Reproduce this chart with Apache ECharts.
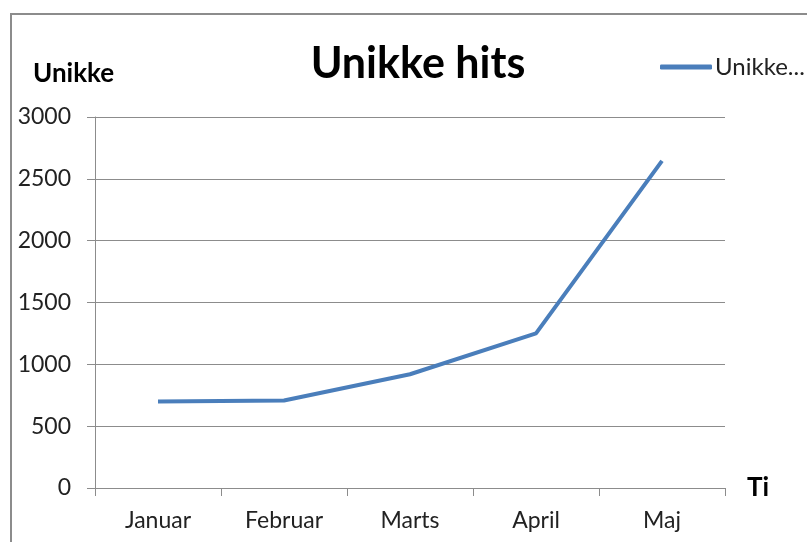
<!DOCTYPE html>
<html>
<head>
<meta charset="utf-8">
<script src="https://cdn.jsdelivr.net/npm/echarts@6/dist/echarts.min.js"></script>
<style>
  html, body { margin: 0; padding: 0; background: #fff; overflow: hidden; }
  #frame {
    position: absolute; left: 10px; top: 13px; width: 810px; height: 540px;
    border-left: 2px solid #8c8c8c; border-top: 2px solid #8c8c8c;
  }
  #main { position: absolute; left: 0; top: 0; width: 807px; height: 542px; }
</style>
</head>
<body>
<div id="frame"></div>
<div id="main"></div>
<script>
// month labels and unique hits per month
const months = ["Januar", "Februar", "Marts", "April", "Maj"];
const hits = [700, 708, 920, 1250, 2645];
const yTicks = [0, 500, 1000, 1500, 2000, 2500, 3000];

const font = "Lato, 'Liberation Sans', sans-serif";
let myChart = echarts.init(document.getElementById("main"), null, { renderer: "canvas" });
myChart.setOption({
  animation: false,
  textStyle: { fontFamily: font },
  title: {
    text: "Unikke hits",
    left: 413,
    textAlign: "center",
    top: 38,
    textStyle: { fontSize: 43, fontWeight: "bold", color: "#000", fontFamily: font }
  },
  legend: {
    left: 655,
    top: 50,
    itemWidth: 52,
    itemHeight: 5,
    itemGap: 6,
    icon: "roundRect",
    formatter: () => "Unikke...",
    textStyle: { fontSize: 24, color: "#222", fontFamily: font, padding: [0, 0, 0, -2] }
  },
  grid: { left: 95, right: 82, top: 117, bottom: 54, containLabel: false },
  xAxis: {
    type: "category",
    data: months,
    boundaryGap: true,
    name: "Ti",
    nameLocation: "end",
    nameGap: 22,
    nameTextStyle: { fontSize: 26, fontWeight: "bold", color: "#000", fontFamily: font, verticalAlign: "middle" },
    axisLine: { lineStyle: { color: "#8c8c8c", width: 1 } },
    axisTick: { show: true, length: 8, inside: false, lineStyle: { color: "#8c8c8c" } },
    axisLabel: { fontSize: 23, color: "#222", margin: 21, fontFamily: font },
    splitLine: { show: false }
  },
  yAxis: {
    type: "value",
    min: 0,
    max: 3000,
    interval: 500,
    name: "Unikke",
    nameLocation: "end",
    nameGap: 30,
    nameTextStyle: { fontSize: 26, fontWeight: "bold", color: "#000", fontFamily: font, align: "left", padding: [0, 0, 0, -62] },
    axisLine: { show: true, lineStyle: { color: "#8c8c8c", width: 1 } },
    axisTick: { show: true, length: 8, lineStyle: { color: "#8c8c8c" } },
    axisLabel: {
      fontSize: 23, color: "#222", margin: 24, fontFamily: font,
      formatter: v => yTicks.includes(v) ? String(v) : ""
    },
    splitLine: { show: true, lineStyle: { color: "#8c8c8c", width: 1 } }
  },
  series: [{
    name: "Unikke hits",
    type: "line",
    data: hits,
    symbol: "none",
    lineStyle: { color: "#4a7ebb", width: 4 },
    itemStyle: { color: "#4a7ebb" }
  }]
});
</script>
</body>
</html>
